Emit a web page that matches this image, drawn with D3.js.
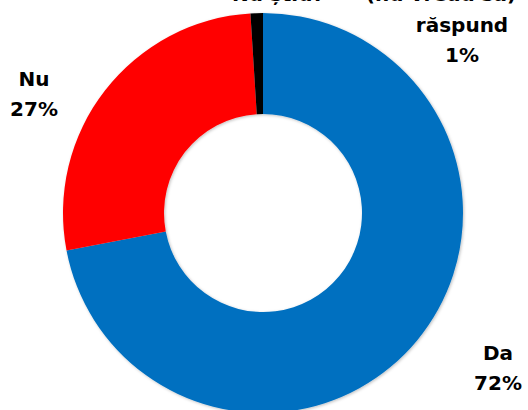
<!DOCTYPE html>
<html><head><meta charset="utf-8">
<script src="https://cdn.jsdelivr.net/npm/d3@7/dist/d3.min.js"></script>
<style>html,body{margin:0;padding:0;background:#fff;overflow:hidden}</style>
</head><body>
<svg id="c" width="528" height="410"></svg>
<script>
const categories = ["Da", "Nu", "Nu știu / nu răspund"];
const values = [72, 27, 1];
const colors = ["#0070C0", "#FF0000", "#000000"];
const labelLines = [["Da", "72%"], ["Nu", "27%"], ["răspund", "1%"]];
const topLines = ["Nu știu?", "(nu vreau să)"];

const svg = d3.select("#c");
const cx = 263, cy = 213, rOut = 200, rIn = 99;

const defs = svg.append("defs");
const f = defs.append("filter").attr("id", "sh").attr("x", "-10%").attr("y", "-10%").attr("width", "120%").attr("height", "120%");
f.append("feDropShadow").attr("dx", 1).attr("dy", 1).attr("stdDeviation", 1.5).attr("flood-color", "#000").attr("flood-opacity", 0.25);

const pie = d3.pie().sort(null).value(d => d)(values);
const arc = d3.arc().innerRadius(rIn).outerRadius(rOut);
const g = svg.append("g").attr("transform", `translate(${cx},${cy})`).attr("filter", "url(#sh)");
g.selectAll("path").data(pie).join("path")
  .attr("d", arc).attr("fill", (d, i) => colors[i]);

const font = "'DejaVu Sans', Verdana, sans-serif";
const labelPos = [[498, 360], [34, 86], [462, 32]];
labelLines.forEach((lines, i) => {
  const t = svg.append("text").attr("x", labelPos[i][0]).attr("y", labelPos[i][1])
    .attr("text-anchor", "middle").attr("font-family", font).attr("font-weight", "bold")
    .attr("font-size", 20).attr("fill", "#000");
  lines.forEach((l, j) => {
    t.append("tspan").attr("x", labelPos[i][0]).attr("dy", j === 0 ? 0 : 30).text(l);
  });
});
const topX = [278, 441];
topLines.forEach((l, i) => {
  svg.append("text").attr("x", topX[i]).attr("y", 1).attr("text-anchor", "middle")
    .attr("font-family", font).attr("font-weight", "bold").attr("font-size", 20).text(l);
});
</script>
</body></html>
